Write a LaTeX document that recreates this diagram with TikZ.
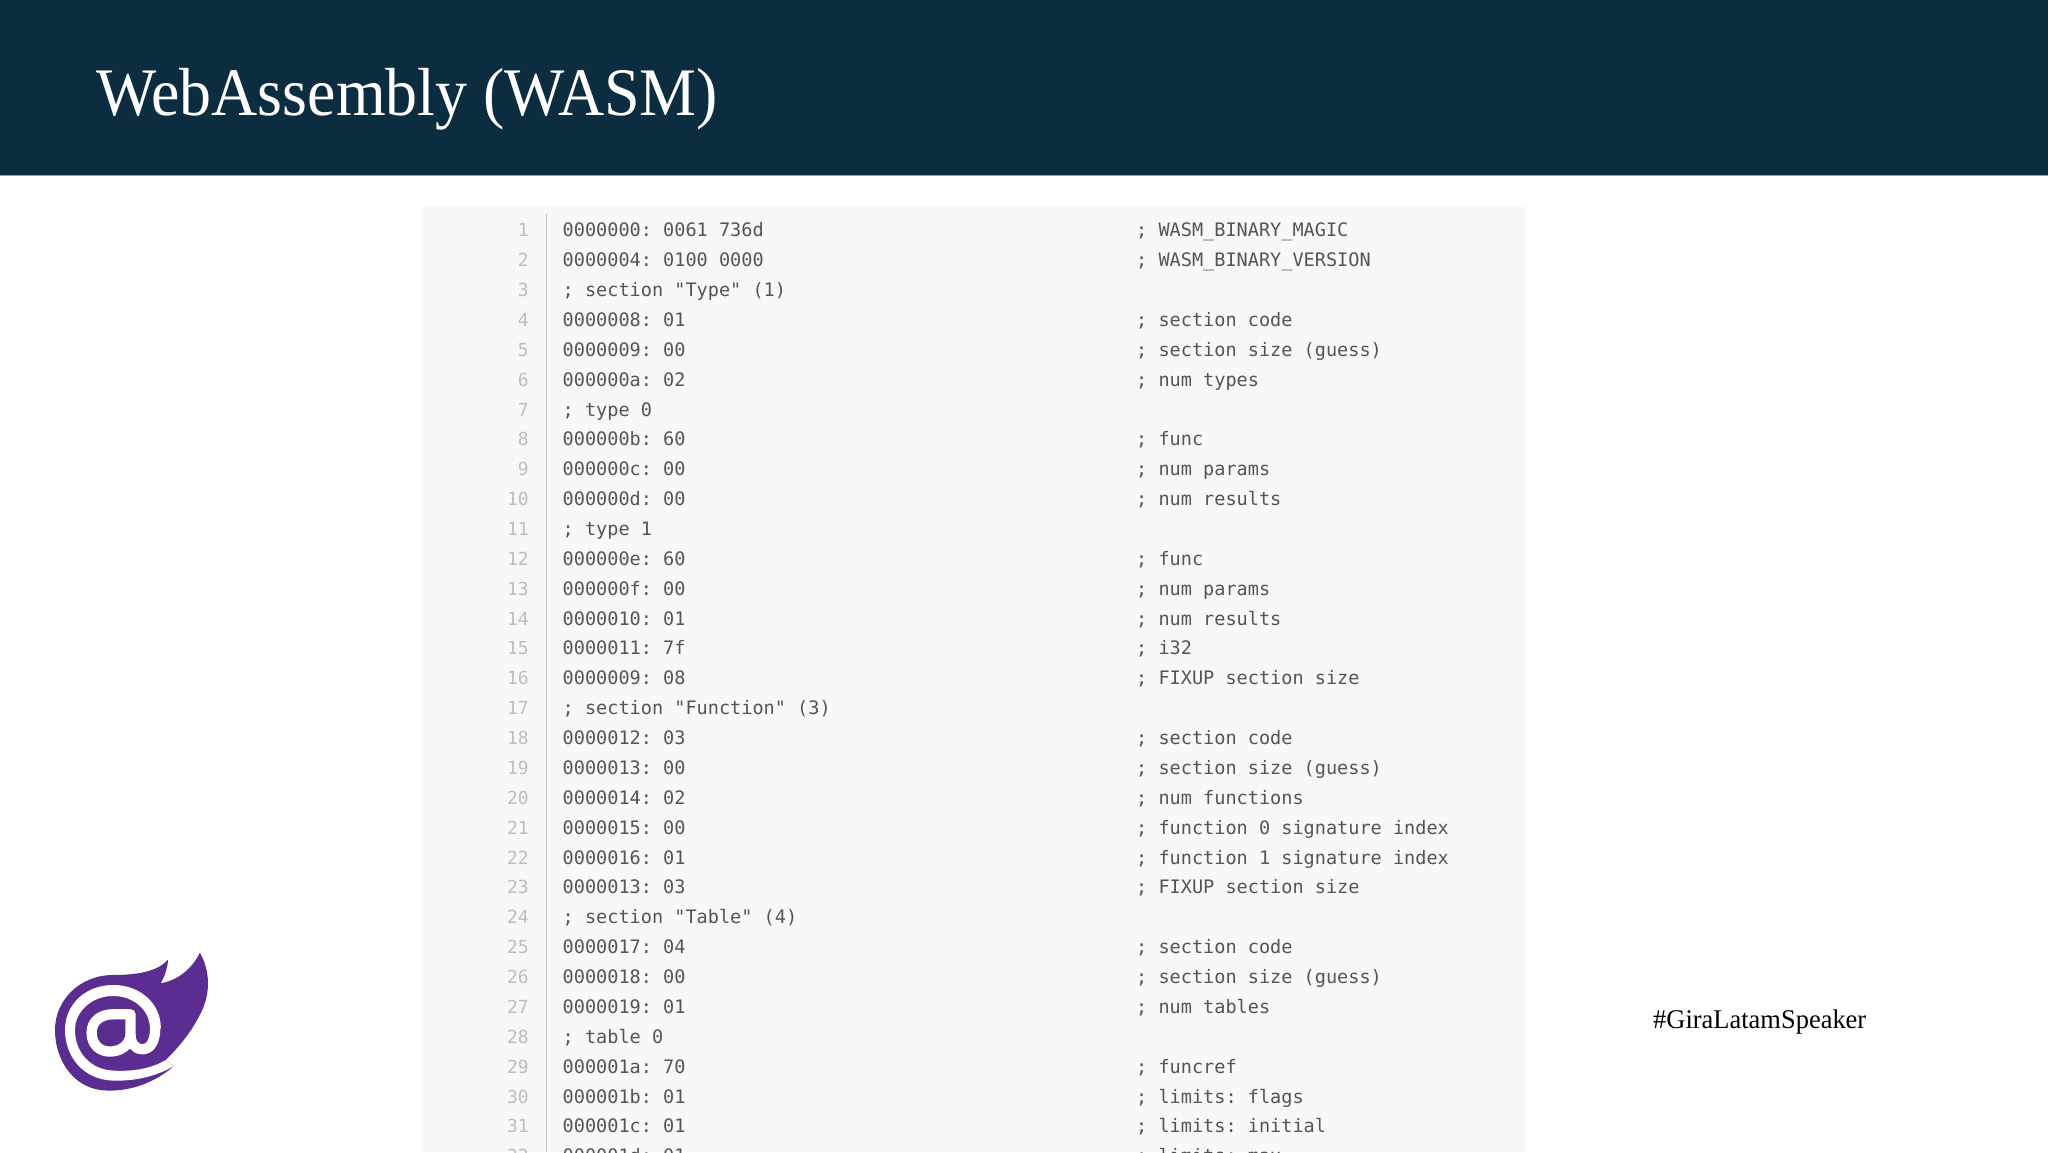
\documentclass[tikz,border=0pt]{standalone}
\usepackage{fontspec}
\setmainfont{Liberation Serif}
\setmonofont{DejaVu Sans Mono}
\newfontfamily\titlefont[FakeStretch=0.94]{Liberation Serif}
\newfontfamily\tagfont[FakeStretch=0.98]{Liberation Serif}
\usepackage{xcolor}
\usetikzlibrary{positioning, calc}
\definecolor{headerblue}{HTML}{0C2C40}
\definecolor{headerline}{HTML}{7FA3B8}
\definecolor{panelgray}{HTML}{F8F7FA}
\definecolor{codegray}{HTML}{555555}
\definecolor{numgray}{HTML}{BDBDBD}
\definecolor{sepgray}{HTML}{C8C8C8}
\definecolor{blazor}{HTML}{5C2D91}
\tikzset{
    codeline/.style={inner sep=0pt, anchor=base west, text=codegray, font=\fontsize{18.55}{24}\ttfamily},
    linenum/.style={inner sep=0pt, anchor=base east, text=numgray, font=\fontsize{18}{24}\ttfamily}
}

\begin{document}
\begin{tikzpicture}[x=1pt,y=-1pt]
        \useasboundingbox (0,0) rectangle (2048,1152);
        \fill[white] (0,0) rectangle (2048,1152);
        \fill[headerblue] (0,0) rectangle (2048,175);
        \fill[headerline] (0,174.5) rectangle (2048,175.5);
        \node[inner sep=0pt, anchor=base west, text=white, font=\fontsize{68}{80}\titlefont] (title) at (96,115) {WebAssembly (WASM)};
        \node[inner sep=0pt, anchor=base west, font=\fontsize{27}{32}\tagfont] (hashtag) at (1653,1028) {\#GiraLatamSpeaker};
        % code panel
        \fill[panelgray] (422,207) rectangle (1526,1152);
        \coordinate (septop) at (546,214);
        \coordinate (sepbottom) at (546,1152);
        \draw[sepgray, line width=1pt] (septop) -- (sepbottom);
        \foreach \row in {1,...,32} {
            \node[linenum] (num\row) at (529,{236.8+29.87*(\row-1)}) {\row};
        }
        \foreach \row/\txt in {1/0000000: 0061 736d, 2/0000004: 0100 0000, 3/; section "Type" (1), 4/0000008: 01,
            5/0000009: 00, 6/000000a: 02, 7/; type 0, 8/000000b: 60, 9/000000c: 00, 10/000000d: 00, 11/; type 1,
            12/000000e: 60, 13/000000f: 00, 14/0000010: 01, 15/0000011: 7f, 16/0000009: 08,
            17/; section "Function" (3), 18/0000012: 03, 19/0000013: 00, 20/0000014: 02, 21/0000015: 00,
            22/0000016: 01, 23/0000013: 03, 24/; section "Table" (4), 25/0000017: 04, 26/0000018: 00,
            27/0000019: 01, 28/; table 0, 29/000001a: 70, 30/000001b: 01, 31/000001c: 01, 32/000001d: 01} {
            \node[codeline] (code\row) at (562.5,{236.8+29.87*(\row-1)}) {\txt};
        }
        \foreach \row/\txt in {1/; WASM\_BINARY\_MAGIC, 2/; WASM\_BINARY\_VERSION, 4/; section code,
            5/; section size (guess), 6/; num types, 8/; func, 9/; num params, 10/; num results, 12/; func,
            13/; num params, 14/; num results, 15/; i32, 16/; FIXUP section size, 18/; section code,
            19/; section size (guess), 20/; num functions, 21/; function 0 signature index,
            22/; function 1 signature index, 23/; FIXUP section size, 25/; section code,
            26/; section size (guess), 27/; num tables, 29/; funcref, 30/; limits: flags,
            31/; limits: initial, 32/; limits: max} {
            \node[codeline] (note\row) at (1136,{236.8+29.87*(\row-1)}) {\txt};
        }
        % logo
        \begin{scope}[shift={(50,950)}, xscale=0.333, yscale=0.333]
            \fill[blazor] (450,8) .. controls (480,60) and (485,130) .. (450,195)
                .. controls (425,245) and (385,295) .. (345,332) -- (372,348)
                .. controls (320,395) and (245,425) .. (170,422)
                .. controls (75,420) and (15,335) .. (15,240)
                .. controls (15,150) and (90,75) .. (190,75)
                .. controls (260,75) and (325,65) .. (355,28)
                .. controls (352,55) and (345,80) .. (332,100)
                .. controls (380,92) and (425,60) .. (450,8) -- cycle;
            % white gap of the at sign, open on the right
            \fill[white] (372,348) .. controls (320,380) and (250,395) .. (185,392)
                .. controls (100,388) and (45,320) .. (45,240)
                .. controls (45,165) and (105,105) .. (190,105)
                .. controls (270,105) and (333,160) .. (333,235)
                -- (300,235)
                .. controls (300,180) and (250,138) .. (190,138)
                .. controls (125,138) and (75,185) .. (75,240)
                .. controls (75,310) and (125,360) .. (190,362)
                .. controls (250,366) and (305,355) .. (345,332) -- cycle;
            \draw[white, line width=10.3pt, line cap=round, line join=round]
                (316,235) .. controls (316,275) and (300,298) .. (278,298)
                .. controls (255,298) and (242,280) .. (242,255) -- (242,193) -- (190,193)
                .. controls (150,193) and (125,215) .. (125,248)
                .. controls (125,285) and (150,305) .. (180,305)
                .. controls (212,305) and (242,285) .. (242,250);
        \end{scope}
    \end{tikzpicture}
\end{document}
